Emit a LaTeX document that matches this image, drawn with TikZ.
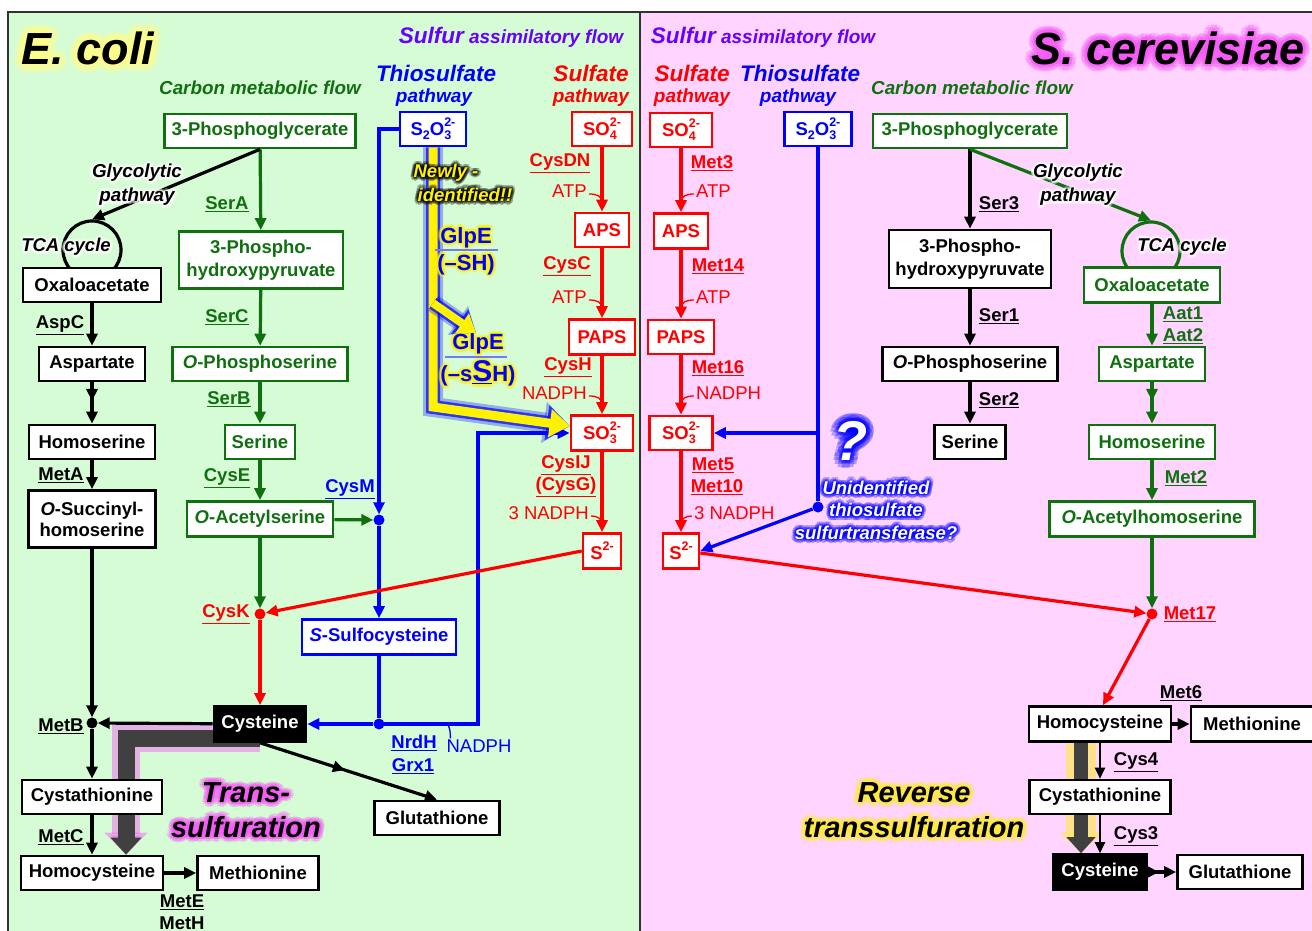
\documentclass[tikz,border=0pt]{standalone}
\usepackage{fontspec}
\setmainfont{Liberation Sans}
\usetikzlibrary{arrows.meta,decorations.markings,calc}
\pgfdeclarelayer{bglayer}
\pgfdeclarelayer{backlayer}
\pgfdeclarelayer{toplayer}
\pgfsetlayers{bglayer,backlayer,main,toplayer}
\definecolor{bgG}{RGB}{214,252,214}
\definecolor{bgP}{RGB}{255,212,255}
\definecolor{dg}{RGB}{16,112,16}
\definecolor{pur}{RGB}{102,0,255}
\definecolor{gray4}{RGB}{64,64,64}
\definecolor{frame}{RGB}{50,50,50}
\definecolor{glowY}{RGB}{255,255,140}
\definecolor{glowM}{RGB}{245,90,245}
\definecolor{glowYY}{RGB}{255,235,60}
\definecolor{ulb}{RGB}{120,120,240}
\newcommand\fz[2]{\fontsize{#1}{#2}\selectfont}
\newcommand\subq[1]{\raisebox{-0.22em}{\fz{12.5}{13}#1}}
\newcommand\supq[1]{\raisebox{0.48em}{\fz{12.5}{13}#1}}
\newcommand\ionq[1]{\rlap{\subq{#1}}\supq{2-}}
\newcommand\glownode[6]{%
  \begin{pgfonlayer}{toplayer}%
  \foreach \ga in {0,30,...,330}{\foreach \gf in {0.45,1}{%
    \node[#5, text=#3, text opacity=0.28, shift={({\ga}:{\gf*#4})}] at (#2) {#6};}}%
  \node[#5] (#1) at (#2) {#6};%
  \end{pgfonlayer}}
\begin{document}
\begin{tikzpicture}[x=1pt,y=-1pt,
  every node/.style={font=\fz{18.5}{21}\bfseries, inner sep=2pt},
  bx/.style={draw, line width=2.6pt, fill=white, minimum height=33pt, inner sep=3pt},
  gbx/.style={bx, draw=dg, text=dg},
  kbx/.style={bx, draw=black, text=black},
  rbx/.style={bx, draw=red, text=red},
  bbx/.style={bx, draw=blue, text=blue},
  cbx/.style={bx, draw=black, fill=black, text=white},
  ln/.style={line width=3.2pt},
  arr/.style={ln, -{Triangle[length=12pt,width=11pt]}},
  dbl/.style={postaction={decorate}, decoration={markings, mark=at position #1 with {\arrow{Triangle[length=12pt,width=11pt]}}}},
  dbl/.default=0.5,
  dotn/.style={circle, fill, inner sep=0pt, minimum size=11pt},
  rg/.style={font=\fz{18.5}{21}},
  hook/.style={line width=1.3pt},
]
\useasboundingbox (0,0) rectangle (1312,931);
\begin{pgfonlayer}{bglayer}
\fill[white] (0,0) rectangle (1312,931);
\fill[bgG] (8,12) rectangle (640,931);
\fill[bgP] (640,12) rectangle (1312,931);
\draw[frame, line width=2pt] (8,931) -- (8,12) -- (1312,12);
\draw[frame, line width=2pt] (640,12) -- (640,931);
\end{pgfonlayer}

% ================= E. coli =================
\node[circle, draw=black, ln, minimum size=58pt] (etca) at (92,250) {};
\node[gbx, minimum width=191pt, minimum height=34pt] (e3pg) at (260,131) {3-Phosphoglycerate};
\node[gbx, minimum width=164pt, minimum height=57pt, align=center, font=\fz{18.5}{23}\bfseries] (e3ph) at (261,260) {3-Phospho-\\hydroxypyruvate};
\node[gbx, minimum width=175pt, minimum height=34pt] (eops) at (260,364) {\textit{O}-Phosphoserine};
\node[gbx, minimum width=70pt, minimum height=34pt] (eser) at (260,442) {Serine};
\node[gbx, minimum width=146pt, minimum height=35pt] (eoas) at (260,519) {\textit{O}-Acetylserine};
\node[kbx, minimum width=138pt, minimum height=34pt] (eoxa) at (92,285) {Oxaloacetate};
\node[kbx, minimum width=106pt, minimum height=34pt] (easp) at (92,364) {Aspartate};
\node[kbx, minimum width=126pt, minimum height=34pt] (ehse) at (92,442) {Homoserine};
\node[kbx, minimum width=127pt, minimum height=57pt, align=center] (eosh) at (92,519) {\textit{O}-Succinyl-\\homoserine};
\node[dotn, black] (emetb) at (92,723) {};
\node[kbx, minimum width=140pt, minimum height=34pt] (ecta) at (92,797) {Cystathionine};
\node[kbx, minimum width=142pt, minimum height=34pt] (ehcy) at (92,873) {Homocysteine};
\node[kbx, minimum width=121pt, minimum height=34pt] (emet) at (258,873) {Methionine};
\node[cbx, minimum width=92pt, minimum height=35pt] (ecys) at (260,724) {Cysteine};
\node[kbx, minimum width=125pt, minimum height=34pt] (egsh) at (437,818) {Glutathione};
\node[dotn, red] (ecysk) at (260,614) {};
\node[dotn, blue] (ecysm) at (379,520) {};
\node[bbx, minimum width=154pt, minimum height=35pt] (essc) at (379,637) {\textit{S}-Sulfocysteine};
\node[dotn, blue] (eblue) at (379,724) {};
\node[bbx, minimum width=66pt, minimum height=34pt] (es2o3) at (433,129) {S\subq{2}O\ionq{3}};
\node[rbx, minimum width=60pt, minimum height=34pt] (eso4) at (602,129) {SO\ionq{4}};
\node[rbx, minimum width=54pt, minimum height=34pt] (eaps) at (602,230) {APS};
\node[rbx, minimum width=66pt, minimum height=35pt] (epaps) at (602,337) {PAPS};
\node[rbx, minimum width=62pt, minimum height=35pt] (eso3) at (602,433) {SO\ionq{3}};
\node[rbx, minimum width=38pt, minimum height=35pt] (es2) at (602,551) {S\supq{2-}};
\coordinate (ecorn) at (478,433);

\begin{pgfonlayer}{backlayer}
\draw[glowM, opacity=0.45, line width=28pt, -{Triangle[length=22pt,width=42pt]}] ([yshift=-14pt]ecys.center) -| ([xshift=34pt]ehcy.north);
\draw[gray4, line width=17pt, -{Triangle[length=17pt,width=30pt]}] ([yshift=-14pt]ecys.center) -| ([xshift=34pt]ehcy.north);
\end{pgfonlayer}

% green / black arrows
\draw[arr, dg] (e3pg) -- (e3ph);
\draw[arr, black] (e3pg.south) -- (etca.north);
\draw[arr, dg] (e3ph) -- (eops);
\draw[arr, dg] (eops) -- (eser);
\draw[arr, dg] (eser) -- (eoas);
\draw[arr, dg] (eoas) -- (ecysk);
\draw[arr, dg] (eoas) -- (ecysm);
\draw[arr] (eoxa) -- (easp);
\draw[arr, dbl=0.45] (easp) -- (ehse);
\draw[arr] (ehse) -- (eosh);
\draw[arr] (eosh) -- (emetb);
\draw[arr] (ecys) -- (emetb);
\draw[arr] (emetb) -- (ecta);
\draw[arr] (ecta) -- (ehcy);
\draw[arr] (ehcy) -- (emet);
\draw[arr, dbl=0.48] (ecys.south) -- (egsh.north);
% blue
\draw[arr, blue] (es2o3.west) -| (ecysm);
\draw[arr, blue] (ecysm) -- (essc);
\draw[ln, blue] (essc) -- (eblue);
\draw[arr, blue] (eblue) -- (ecys);
\draw[arr, blue] (eblue.center) -| (ecorn) -- (eso3.west);
% red
\draw[arr, red] (eso4) -- (eaps);
\draw[arr, red] (eaps) -- (epaps);
\draw[arr, red] (epaps) -- (eso3);
\draw[arr, red] (eso3) -- (es2);
\draw[arr, red] (es2.west) -- (ecysk);
\draw[arr, red] (ecysk) -- (ecys);

% yellow GlpE arrows
\coordinate (eyb) at (433,407);
\coordinate (eyc) at (476,333);
\draw[blue, opacity=0.3, line width=20pt, -{Triangle[length=26pt,width=40pt]}] (es2o3.south) -- (eyb) -- ([yshift=7pt]eso3.west);
\draw[blue, opacity=0.7, line width=14pt, -{Triangle[length=23pt,width=34pt]}] (es2o3.south) -- (eyb) -- ([yshift=7pt]eso3.west);
\draw[yellow, line width=9pt, -{Triangle[length=20pt,width=27pt]}] (es2o3.south) -- (eyb) -- ([yshift=7pt]eso3.west);
\draw[blue, opacity=0.3, line width=18pt, -{Triangle[length=22pt,width=34pt]}] ($(es2o3.south)!0.6!(eyb)$) -- (eyc);
\draw[blue, opacity=0.7, line width=13pt, -{Triangle[length=20pt,width=29pt]}] ($(es2o3.south)!0.6!(eyb)$) -- (eyc);
\draw[yellow, line width=8pt, -{Triangle[length=17pt,width=23pt]}] ($(es2o3.south)!0.6!(eyb)$) -- (eyc);

% E. coli labels
\node[text=dg] (lsera) at (227,204) {\underline{SerA}};
\node[text=dg] (lserc) at (227,317) {\underline{SerC}};
\node[text=dg] (lserb) at (229,399) {\underline{SerB}};
\node[text=dg] (lcyse) at (227,478) {\underline{CysE}};
\node (laspc) at (60,325) {\underline{AspC}};
\node (lmeta) at (61,475) {\underline{MetA}};
\node (lmetb) at (61,726) {\underline{MetB}};
\node (lmetc) at (61,837) {\underline{MetC}};
\node (lmete) at (182,902) {\underline{MetE}};
\node (lmeth) at (182,923) {MetH};
\node[text=red] (lcysk) at (226,614) {\underline{CysK}};
\node[text=red] (lcysdn) at (560,163) {\underline{CysDN}};
\node[text=red] (lcysc) at (567,266) {\underline{CysC}};
\node[text=red] (lcysh) at (568,367) {\underline{CysH}};
\node[text=red] (lcysij) at (566,465) {\underline{CysIJ}};
\node[text=red] (lcysg) at (566,487) {\underline{(CysG)}};
\node[rg, text=red, anchor=east] (eatp1) at (589,191) {ATP};
\node[rg, text=red, anchor=east] (eatp2) at (589,297) {ATP};
\node[rg, text=red, anchor=east] (enadph) at (589,393) {NADPH};
\node[rg, text=red, anchor=east] (e3nadph) at (591,513) {3 NADPH};
\draw[red, hook] ([yshift=-3pt]eatp1.east) .. controls +(8,0) and +(0,-7) .. +(13,9);
\draw[red, hook] ([yshift=-3pt]eatp2.east) .. controls +(8,0) and +(0,-7) .. +(13,9);
\draw[red, hook] ([yshift=-3pt]enadph.east) .. controls +(8,0) and +(0,-7) .. +(13,9);
\draw[red, hook] ([yshift=-3pt]e3nadph.east) .. controls +(6,0) and +(0,-7) .. +(11,9);
\node[text=blue] (lcysm) at (350,489) {\underline{CysM}};
\node[text=blue] (lnrdh) at (414,743) {\underline{NrdH}};
\node[text=blue] (lgrx) at (413,766) {\underline{Grx1}};
\node[rg, text=blue] (enadphb) at (479,746) {NADPH};
\draw[blue, hook] (446,724) .. controls +(4,0) and +(0,-5) .. ([xshift=6pt,yshift=-1pt]enadphb.north west);

\node[text=pur, font=\fz{19}{22}\bfseries\itshape] (esaf) at (511,37) {{\fz{22.5}{24}Sulfur} assimilatory flow};
\node[text=blue, font=\fz{22.5}{24}\bfseries\itshape] (ethio) at (436,73) {Thiosulfate};
\node[text=blue, font=\fz{19}{22}\bfseries\itshape] (ethiop) at (434,98) {pathway};
\node[text=red, font=\fz{22.5}{24}\bfseries\itshape] (esulf) at (591,73) {Sulfate};
\node[text=red, font=\fz{19}{22}\bfseries\itshape] (esulfp) at (591,98) {pathway};
\node[text=dg, font=\fz{18.8}{22}\bfseries\itshape] (ecarb) at (260,88) {Carbon metabolic flow};

\glownode{tecoli}{88,48}{glowY}{8}{font=\fz{45}{50}\bfseries\itshape, text=black}{E. coli}
\glownode{eglyc}{137,185}{white}{3}{text=black, font=\fz{18.8}{24}\bfseries\itshape, align=center}{Glycolytic\\pathway}
\glownode{etcat}{66,247}{white}{3}{text=black, font=\fz{18.5}{22}\bfseries\itshape}{TCA cycle}
\glownode{etrans}{246,810}{glowM}{5}{text=black, font=\fz{29}{35}\bfseries\itshape, align=center}{Trans-\\sulfuration}
\glownode{enew1}{446,173}{black}{3.5}{text=yellow, font=\fz{18.5}{22}\bfseries\itshape}{Newly -}
\glownode{enew2}{465,195}{black}{3.5}{text=yellow, font=\fz{18.5}{22}\bfseries\itshape}{identified!!}
\glownode{eglpe1}{466,251}{yellow}{3}{text=blue, font=\fz{22}{27}\bfseries, align=center}{GlpE\\(–SH)}
\glownode{eglpe2}{478,360}{yellow}{3}{text=blue, font=\fz{22}{32}\bfseries, align=center}{GlpE\\(–s{\fz{30}{30}\underline{S}}H)}
\begin{pgfonlayer}{toplayer}
\draw[ulb, line width=1.3pt] ([xshift=-31pt,yshift=1pt]eglpe1.center) -- ([xshift=32pt,yshift=1pt]eglpe1.center);
\draw[ulb, line width=1.3pt] ([xshift=-33pt,yshift=3pt]eglpe2.center) -- ([xshift=29pt,yshift=3pt]eglpe2.center);
\end{pgfonlayer}

% ================= S. cerevisiae =================
\node[circle, draw=dg, ln, minimum size=58pt] (stca) at (1151,251) {};
\node[gbx, minimum width=194pt, minimum height=34pt] (s3pg) at (970,131) {3-Phosphoglycerate};
\node[kbx, minimum width=162pt, minimum height=58pt, align=center, font=\fz{18.5}{23}\bfseries] (s3ph) at (970,259) {3-Phospho-\\hydroxypyruvate};
\node[kbx, minimum width=175pt, minimum height=34pt] (sops) at (970,364) {\textit{O}-Phosphoserine};
\node[kbx, minimum width=71pt, minimum height=34pt] (sser) at (970,442) {Serine};
\node[gbx, minimum width=136pt, minimum height=35pt] (soxa) at (1152,285) {Oxaloacetate};
\node[gbx, minimum width=106pt, minimum height=34pt] (sasp) at (1152,364) {Aspartate};
\node[gbx, minimum width=126pt, minimum height=34pt] (shse) at (1152,442) {Homoserine};
\node[gbx, minimum width=205pt, minimum height=35pt] (soah) at (1152,519) {\textit{O}-Acetylhomoserine};
\node[dotn, red] (smet17) at (1152,614) {};
\node[kbx, minimum width=142pt, minimum height=35pt] (shcy) at (1100,724) {Homocysteine};
\node[kbx, minimum width=122pt, minimum height=35pt] (smet) at (1252,724) {Methionine};
\node[kbx, minimum width=141pt, minimum height=34pt] (scta) at (1100,797) {Cystathionine};
\node[cbx, minimum width=93pt, minimum height=35pt] (scys) at (1100,872) {Cysteine};
\node[kbx, minimum width=125pt, minimum height=34pt] (sgsh) at (1240,872) {Glutathione};
\node[rbx, minimum width=62pt, minimum height=34pt] (sso4) at (681,130) {SO\ionq{4}};
\node[rbx, minimum width=54pt, minimum height=35pt] (saps) at (681,231) {APS};
\node[rbx, minimum width=66pt, minimum height=34pt] (spaps) at (681,337) {PAPS};
\node[rbx, minimum width=63pt, minimum height=34pt] (sso3) at (681,433) {SO\ionq{3}};
\node[rbx, minimum width=36pt, minimum height=35pt] (ss2) at (681,551) {S\supq{2-}};
\node[bbx, minimum width=67pt, minimum height=34pt] (ss2o3) at (818,129) {S\subq{2}O\ionq{3}};
\node[dotn, blue] (sdot) at (818,507) {};
\coordinate (sbr) at (818,433);

\begin{pgfonlayer}{backlayer}
\draw[glowYY, opacity=0.6, line width=30pt, -{Triangle[length=20pt,width=40pt]}] ([xshift=-19pt]shcy.south) -- ([xshift=-19pt]scys.north);
\draw[gray4, line width=14pt, -{Triangle[length=16pt,width=28pt]}] ([xshift=-19pt]shcy.south) -- ([xshift=-19pt]scys.north);
\end{pgfonlayer}

\draw[arr] (s3pg) -- (s3ph);
\draw[arr, dg] (s3pg.south) -- (stca.north);
\draw[arr] (s3ph) -- (sops);
\draw[arr] (sops) -- (sser);
\draw[arr, dg] (soxa) -- (sasp);
\draw[arr, dg, dbl=0.45] (sasp) -- (shse);
\draw[arr, dg] (shse) -- (soah);
\draw[arr, dg] (soah) -- (smet17);
\draw[arr, red] (smet17) -- ([xshift=3pt]shcy.north);
\draw[arr] (shcy) -- (smet);
\draw[line width=2pt, -{Triangle[length=11pt,width=10pt]}] (shcy) -- (scta);
\draw[line width=2pt, -{Triangle[length=11pt,width=10pt]}] (scta) -- (scys);
\draw[arr, dbl=0.4] (scys) -- (sgsh);
\draw[arr, red] (sso4) -- (saps);
\draw[arr, red] (saps) -- (spaps);
\draw[arr, red] (spaps) -- (sso3);
\draw[arr, red] (sso3) -- (ss2);
\draw[ln, blue] (ss2o3) -- (sdot);
\draw[arr, blue] (sbr) -- (sso3.east);
\draw[arr, blue] (sdot) -- (ss2.east);
\draw[arr, red] ([yshift=-2pt]ss2.east) -- (smet17);

\node[text=red] (lmet3) at (712,163) {\underline{Met3}};
\node[text=red] (lmet14) at (718,266) {\underline{Met14}};
\node[text=red] (lmet16) at (718,368) {\underline{Met16}};
\node[text=red] (lmet5) at (713,465) {\underline{Met5}};
\node[text=red] (lmet10) at (717,487) {\underline{Met10}};
\node[text=red] (lmet17) at (1190,614) {\underline{Met17}};
\node[rg, text=red, anchor=west] (satp1) at (694,191) {ATP};
\node[rg, text=red, anchor=west] (satp2) at (694,297) {ATP};
\node[rg, text=red, anchor=west] (snadph) at (694,393) {NADPH};
\node[rg, text=red, anchor=west] (s3nadph) at (692,513) {3 NADPH};
\draw[red, hook] ([yshift=-3pt]satp1.west) .. controls +(-8,0) and +(0,-7) .. +(-13,9);
\draw[red, hook] ([yshift=-3pt]satp2.west) .. controls +(-8,0) and +(0,-7) .. +(-13,9);
\draw[red, hook] ([yshift=-3pt]snadph.west) .. controls +(-8,0) and +(0,-7) .. +(-13,9);
\draw[red, hook] ([yshift=-3pt]s3nadph.west) .. controls +(-6,0) and +(0,-7) .. +(-11,9);
\node (lser3) at (999,204) {\underline{Ser3}};
\node (lser1) at (999,316) {\underline{Ser1}};
\node (lser2) at (999,400) {\underline{Ser2}};
\node (lmet6) at (1181,693) {\underline{Met6}};
\node (lcys4) at (1136,762) {\underline{Cys4}};
\node (lcys3) at (1136,836) {\underline{Cys3}};
\node[text=dg] (laat1) at (1183,314) {\underline{Aat1}};
\node[text=dg] (laat2) at (1183,336) {\underline{Aat2}};
\node[text=dg] (lmet2) at (1186,478) {\underline{Met2}};

\node[text=pur, font=\fz{19}{22}\bfseries\itshape] (ssaf) at (763,37) {{\fz{22.5}{24}Sulfur} assimilatory flow};
\node[text=red, font=\fz{22.5}{24}\bfseries\itshape] (ssulf) at (692,73) {Sulfate};
\node[text=red, font=\fz{19}{22}\bfseries\itshape] (ssulfp) at (692,98) {pathway};
\node[text=blue, font=\fz{22.5}{24}\bfseries\itshape] (sthio) at (800,73) {Thiosulfate};
\node[text=blue, font=\fz{19}{22}\bfseries\itshape] (sthiop) at (798,98) {pathway};
\node[text=dg, font=\fz{18.8}{22}\bfseries\itshape] (scarb) at (972,88) {Carbon metabolic flow};

\glownode{tscer}{1168,48}{glowM}{7}{font=\fz{45}{50}\bfseries\itshape, text=black}{S. cerevisiae}
\glownode{sglyc}{1078,185}{white}{3}{text=black, font=\fz{18.8}{24}\bfseries\itshape, align=center}{Glycolytic\\pathway}
\glownode{stcat}{1182,247}{white}{3}{text=black, font=\fz{18.5}{22}\bfseries\itshape}{TCA cycle}
\glownode{srev}{914,810}{glowYY}{5}{text=black, font=\fz{29}{35}\bfseries\itshape, align=center}{Reverse\\transsulfuration}
\glownode{sq}{851,441}{blue}{8}{text=white, font=\fz{56}{60}\bfseries\itshape}{?}
\glownode{sunid}{876,510}{blue}{4}{text=white, font=\fz{18.5}{22.5}\bfseries\itshape, align=center}{Unidentified\\thiosulfate\\sulfurtransferase?}
\end{tikzpicture}
\end{document}
